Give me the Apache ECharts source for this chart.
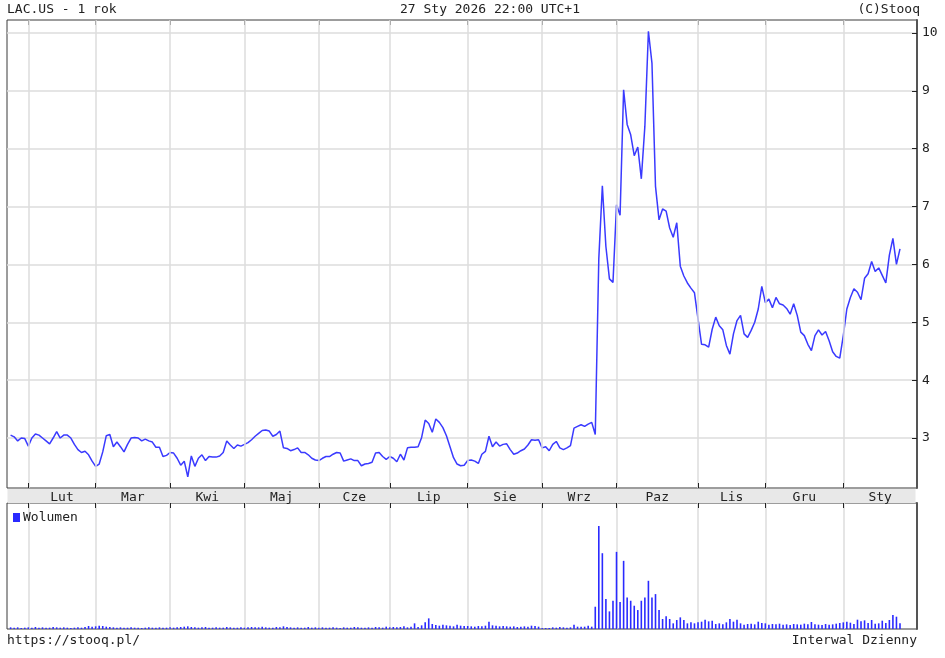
<!DOCTYPE html>
<html><head><meta charset="utf-8">
<script src="https://cdn.jsdelivr.net/npm/echarts@6/dist/echarts.min.js"></script>
<style>html,body{margin:0;padding:0;background:#fff}#c{width:945px;height:658px}</style>
</head><body><div id="c"></div>
<script>
// ---- data ----
const startDate = '2025-01-27';
const endDate = '2026-01-27';
const holidays = ['2025-02-17','2025-04-18','2025-05-26','2025-06-19','2025-07-04','2025-09-01','2025-11-27','2025-12-25','2026-01-01','2026-01-19'];
const monthNames = ['Sty','Lut','Mar','Kwi','Maj','Cze','Lip','Sie','Wrz','Paz','Lis','Gru'];
const priceTicks = [3,4,5,6,7,8,9,10];
const closes = [
3.05,3.02,2.95,3.00,2.99,2.86,3.00,3.07,3.05,3.00,
2.95,2.90,3.00,3.11,3.00,3.05,3.05,3.00,2.89,2.80,
2.75,2.77,2.71,2.60,2.51,2.55,2.76,3.04,3.06,2.85,
2.93,2.85,2.76,2.89,3.00,3.01,3.00,2.95,2.98,2.95,
2.93,2.84,2.84,2.68,2.70,2.75,2.74,2.65,2.53,2.60,
2.33,2.69,2.51,2.65,2.71,2.61,2.68,2.67,2.67,2.69,
2.75,2.95,2.88,2.82,2.88,2.86,2.89,2.92,2.97,3.03,
3.08,3.13,3.14,3.12,3.03,3.06,3.12,2.83,2.82,2.78,
2.80,2.83,2.75,2.75,2.71,2.65,2.62,2.61,2.65,2.68,
2.68,2.72,2.75,2.74,2.60,2.62,2.64,2.61,2.61,2.52,
2.55,2.56,2.58,2.74,2.75,2.68,2.63,2.68,2.65,2.59,
2.72,2.62,2.83,2.84,2.84,2.85,3.01,3.31,3.25,3.10,
3.33,3.27,3.18,3.04,2.85,2.66,2.55,2.52,2.53,2.61,
2.62,2.60,2.56,2.72,2.77,3.03,2.85,2.93,2.86,2.89,
2.90,2.80,2.72,2.74,2.78,2.81,2.88,2.97,2.96,2.97,
2.83,2.85,2.78,2.89,2.94,2.83,2.80,2.83,2.87,3.17,
3.20,3.23,3.20,3.24,3.27,3.06,6.10,7.36,6.31,5.75,
5.69,7.03,6.85,9.02,8.42,8.24,7.88,8.03,7.48,8.39,
10.03,9.48,7.35,6.77,6.96,6.92,6.63,6.47,6.72,5.97,
5.80,5.68,5.59,5.51,5.06,4.62,4.61,4.57,4.88,5.09,
4.94,4.87,4.60,4.45,4.80,5.03,5.12,4.80,4.74,4.86,
5.00,5.23,5.62,5.34,5.40,5.25,5.43,5.32,5.30,5.24,
5.14,5.32,5.12,4.83,4.77,4.62,4.51,4.77,4.87,4.78,
4.84,4.68,4.49,4.41,4.38,4.77,5.23,5.43,5.58,5.52,
5.39,5.76,5.84,6.05,5.88,5.94,5.81,5.68,6.16,6.45,
6.00,6.27
];
const volumes = [
0.5,0.4,0.5,0.3,0.4,
0.5,0.4,0.6,0.4,0.5,0.4,0.4,0.6,0.5,0.4,0.5,0.4,0.3,0.4,0.5,0.4,0.6,0.9,0.7,
0.8,1.0,0.9,0.7,0.6,0.5,0.4,0.5,0.4,0.4,0.5,0.4,0.4,0.3,0.4,0.5,0.4,0.4,0.5,0.4,0.4,
0.5,0.4,0.5,0.6,0.7,0.8,0.6,0.5,0.4,0.5,0.6,0.4,0.4,0.5,0.4,0.4,0.6,0.5,0.4,0.4,0.5,
0.4,0.5,0.6,0.5,0.5,0.7,0.5,0.4,0.4,0.6,0.5,0.8,0.6,0.5,0.4,0.5,0.4,0.4,0.6,0.4,0.5,
0.4,0.5,0.4,0.4,0.5,0.4,0.3,0.5,0.4,0.4,0.6,0.5,0.4,0.4,0.5,0.4,0.6,0.5,0.4,0.7,
0.5,0.6,0.5,0.6,0.8,0.5,0.7,1.7,0.6,1.1,2.0,3.2,1.5,1.2,1.0,1.3,1.1,1.0,0.8,1.3,1.0,0.9,
0.9,0.8,0.7,0.9,0.8,1.0,2.2,1.1,1.0,0.8,0.9,0.8,0.7,0.8,0.6,0.7,0.8,0.7,1.0,0.9,0.7,
0.3,0.3,0.3,0.5,0.4,0.6,0.5,0.4,0.5,1.3,0.7,0.7,0.7,1.0,0.7,6.7,31.0,22.8,9.0,5.3,8.5,
23.2,8.1,20.5,9.5,8.5,7.0,5.7,8.5,9.5,14.5,9.5,10.5,5.7,3.0,3.8,3.0,1.7,2.7,3.5,2.7,1.7,2.0,1.7,
2.0,2.2,2.8,2.3,2.5,1.5,1.7,1.4,2.0,3.0,2.2,2.8,1.7,1.3,1.5,1.6,1.4,2.2,1.8,
1.7,1.3,1.5,1.4,1.6,1.3,1.4,1.2,1.5,1.4,1.3,1.6,1.4,2.1,1.4,1.3,1.2,1.5,1.3,1.4,1.6,1.8,
2.0,2.2,1.9,1.5,2.8,2.3,2.6,1.8,2.7,1.6,1.7,2.5,1.8,2.7,4.2,3.7,1.7
];

// ---- trading-day calendar (category positions) ----
const dates = [];
(function(){
  let d = new Date(startDate + 'T00:00:00Z');
  const end = new Date(endDate + 'T00:00:00Z');
  while (d <= end) {
    const s = d.toISOString().slice(0,10);
    const wd = d.getUTCDay();
    if (wd !== 0 && wd !== 6 && holidays.indexOf(s) < 0) dates.push(s);
    d = new Date(d.getTime() + 86400000);
  }
})();
const xMin = -1.02, xMax = 255.8;
const monthStarts = [];
const monthOfStart = [];
for (let i = 1; i < dates.length; i++) {
  if (dates[i].slice(5,7) !== dates[i-1].slice(5,7)) { monthStarts.push(i); monthOfStart.push(+dates[i].slice(5,7) - 1); }
}
const labelPos = [], labelName = {};
for (let k = 0; k < monthStarts.length; k++) {
  const a = monthStarts[k], b = k + 1 < monthStarts.length ? monthStarts[k+1] : xMax;
  const p = (a + b) / 2;
  labelPos.push(p); labelName[p.toFixed(3)] = monthNames[monthOfStart[k]];
}
const linePts = closes.map((v, i) => [i, v]);
const volPts = volumes.map((v, i) => [i, v]);

const FONT = 'DejaVu Sans Mono';
const gridCol = '#dcdcdc';
const frameCol = '#3a3a3a';
const chart = echarts.init(document.getElementById('c'), null, {renderer:'canvas'});
chart.setOption({
  animation: false,
  backgroundColor: '#fff',
  textStyle: {fontFamily: FONT},
  legend: {data:['Wolumen'], left: 8, top: 506, itemWidth: 7, itemHeight: 9, icon: 'rect', itemGap: 4,
    textStyle: {fontFamily: FONT, fontSize: 13, color: '#222', padding:[0,0,0,-2]}, selectedMode: false},
  grid: [
    {left: 7, right: 28, top: 20, height: 468, show: true, borderColor: frameCol, borderWidth: 1},
    {left: 7, right: 28, top: 503, height: 126, show: true, borderColor: frameCol, borderWidth: 1}
  ],
  xAxis: [
    {gridIndex: 0, type: 'value', min: xMin, max: xMax, position: 'bottom', z: 50,
      axisLine: {show: false, onZero: false},
      axisTick: {show: true, inside: true, length: 5, customValues: monthStarts, lineStyle: {color: '#222', width: 1}},
      splitLine: {show: true, lineStyle: {color: gridCol, width: 1.5}},
      axisLabel: {show: true, customValues: labelPos, margin: 3, color: '#222', fontSize: 13, fontFamily: FONT,
        formatter: v => labelName[(+v).toFixed(3)] || ''}},
    {gridIndex: 0, type: 'value', min: xMin, max: xMax, position: 'top',
      axisLine: {show: false, onZero: false},
      axisTick: {show: true, inside: true, length: 5, customValues: monthStarts, lineStyle: {color: '#222', width: 1}},
      splitLine: {show: false}, axisLabel: {show: false}},
    {gridIndex: 1, type: 'value', min: xMin, max: xMax, position: 'top',
      axisLine: {show: false, onZero: false},
      axisTick: {show: true, inside: true, length: 5, customValues: monthStarts, lineStyle: {color: '#222', width: 1}},
      splitLine: {show: true, lineStyle: {color: gridCol, width: 1.5}}, axisLabel: {show: false}}
  ],
  yAxis: [
    {gridIndex: 0, type: 'value', position: 'right', min: 2.136, max: 10.225,
      axisLine: {show: true, onZero: false, lineStyle: {color: '#555', width: 2}},
      axisTick: {show: true, inside: true, length: 5, customValues: priceTicks, lineStyle: {color: '#222'}},
      axisLabel: {customValues: priceTicks, margin: 5, color: '#222', fontSize: 13, fontFamily: FONT},
      splitLine: {show: true, lineStyle: {color: gridCol, width: 1.5}}},
    {gridIndex: 1, type: 'value', position: 'right', min: 0, max: 37.9,
      axisLine: {show: true, onZero: false, lineStyle: {color: '#555', width: 2}},
      axisTick: {show: false}, axisLabel: {show: false}, splitLine: {show: false}}
  ],
  graphic: [
    {type: 'rect', z: 1, shape: {x: 7.5, y: 489, width: 908, height: 14}, style: {fill: '#e8e8e8', stroke: null}, silent: true},
    {type: 'text', left: 7, top: 3, style: {text: 'LAC.US - 1 rok', font: '13px "DejaVu Sans Mono"', fill: '#222'}},
    {type: 'text', x: 490, y: 3, style: {text: '27 Sty 2026 22:00 UTC+1', font: '13px "DejaVu Sans Mono"', fill: '#222', textAlign: 'center'}},
    {type: 'text', x: 920, y: 3, style: {text: '(C)Stooq', font: '13px "DejaVu Sans Mono"', fill: '#222', textAlign: 'right'}},
    {type: 'text', left: 7, top: 634, style: {text: 'https://stooq.pl/', font: '13px "DejaVu Sans Mono"', fill: '#222'}},
    {type: 'text', x: 917, y: 634, style: {text: 'Interwal Dzienny', font: '13px "DejaVu Sans Mono"', fill: '#222', textAlign: 'right'}}
  ],
  series: [
    {name: 'LAC.US', type: 'line', xAxisIndex: 0, yAxisIndex: 0, data: linePts, showSymbol: false, symbol: 'none',
      lineStyle: {color: '#3a3aff', width: 1.5}, z: 5},
    {name: 'Wolumen', type: 'bar', xAxisIndex: 2, yAxisIndex: 1, data: volPts, barWidth: 1.6,
      itemStyle: {color: '#2a2aff'}, z: 5}
  ]
});
</script>
</body></html>
